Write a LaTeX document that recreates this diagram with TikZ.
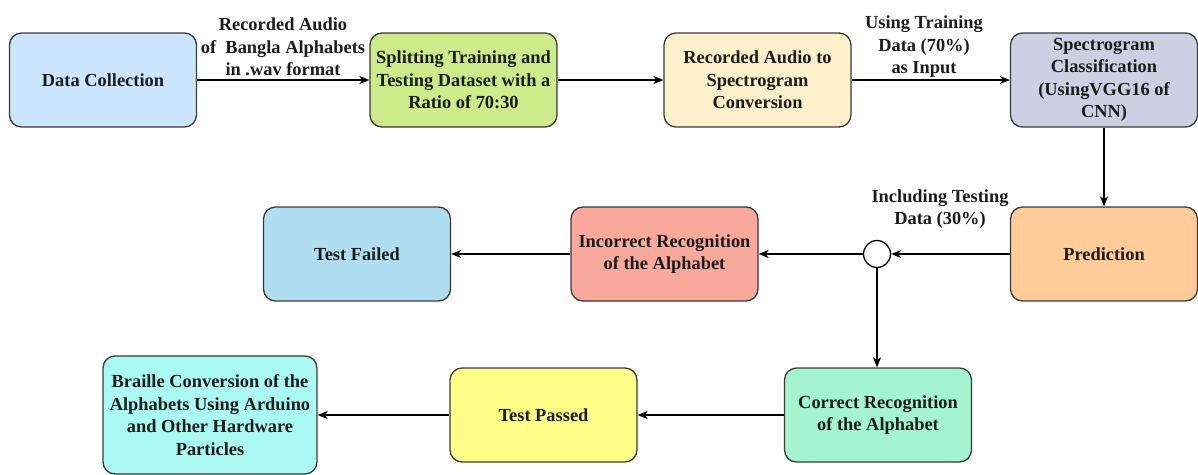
\documentclass[tikz,border=0pt]{standalone}
\usepackage{fontspec}
\setmainfont{Liberation Serif}
\usetikzlibrary{arrows.meta}

% fill colours of the process boxes
\definecolor{edgegrey}{HTML}{3A3A3A}
\definecolor{inkgrey}{HTML}{1C1C1C}
\definecolor{fillcollect}{HTML}{CCE5FF}
\definecolor{fillsplit}{HTML}{CDEB8B}
\definecolor{fillaudio}{HTML}{FFF0CC}
\definecolor{fillclass}{HTML}{D0CEE2}
\definecolor{fillpredict}{HTML}{FFCC99}
\definecolor{fillwrong}{HTML}{F9A99B}
\definecolor{fillfailed}{HTML}{B1DDF0}
\definecolor{fillright}{HTML}{A4F4D2}
\definecolor{fillpassed}{HTML}{FFFF88}
\definecolor{fillbraille}{HTML}{AAF9F3}

\newcommand\flowfont{\fontsize{18.4}{22.5}\selectfont\bfseries}

\tikzset{
  procbox/.style={draw=edgegrey, line width=1.3pt, rounded corners=12pt,
    minimum width=187pt, minimum height=94pt, inner sep=0pt,
    align=center, font=\flowfont, text=inkgrey},
  flow/.style={draw=black, line width=1.3pt,
    -{Stealth[length=10pt,width=8pt,inset=3pt]}},
  note/.style={align=center, font=\flowfont, text=inkgrey, inner sep=0pt},
  junction/.style={draw=black, line width=1.3pt, circle, fill=white,
    minimum size=27pt, inner sep=0pt}
}

\begin{document}
\begin{tikzpicture}[x=1pt, y=-1pt]
  \useasboundingbox (0,0) rectangle (1198,474);

  % top row
  \node[procbox, fill=fillcollect] (collect) at (103,80) {Data Collection};
  \node[procbox, fill=fillsplit]   (split)   at (463.5,80)
    {Splitting Training and\\Testing Dataset with a\\Ratio of 70:30};
  \node[procbox, fill=fillaudio]   (audio)   at (757.5,80)
    {Recorded Audio to\\Spectrogram\\Conversion};
  \node[procbox, fill=fillclass]   (classify) at (1104,80)
    {Spectrogram\\Classification\\(UsingVGG16 of\\CNN)};

  % middle row
  \node[procbox, fill=fillpredict] (predict) at (1104,254) {Prediction};
  \node[junction] (split2) at (877,254) {};
  \node[procbox, fill=fillwrong]   (wrong)   at (664.5,254)
    {Incorrect Recognition\\of the Alphabet};
  \node[procbox, fill=fillfailed]  (failed)  at (357,254) {Test Failed};

  % bottom row
  \node[procbox, fill=fillright]   (right)   at (878,415)
    {Correct Recognition\\of the Alphabet};
  \node[procbox, fill=fillpassed]  (passed)  at (543.5,415) {Test Passed};
  \node[procbox, fill=fillbraille, minimum width=214pt, minimum height=118pt]
    (braille) at (210,415)
    {Braille Conversion of the\\Alphabets Using Arduino\\and Other Hardware\\Particles};

  % connectors
  \draw[flow] (collect) -- (split);
  \draw[flow] (split) -- (audio);
  \draw[flow] (audio) -- (classify);
  \draw[flow] (classify) -- (predict);
  \draw[flow] (predict) -- (split2);
  \draw[flow] (split2) -- (wrong);
  \draw[flow] (wrong) -- (failed);
  \draw[flow] (split2) -- (split2 |- right.north);
  \draw[flow] (right) -- (passed);
  \draw[flow] (passed) -- (braille);

  % connector labels
  \node[note] (lblaudio) at (283,47)
    {Recorded Audio\\of\ \ Bangla Alphabets\\in .wav format};
  \node[note] (lbltrain) at (924,47)
    {Using Training\\Data (70\%)\\as Input};
  \node[note] (lbltest) at (940,209)
    {Including Testing\\Data (30\%)};
\end{tikzpicture}
\end{document}
